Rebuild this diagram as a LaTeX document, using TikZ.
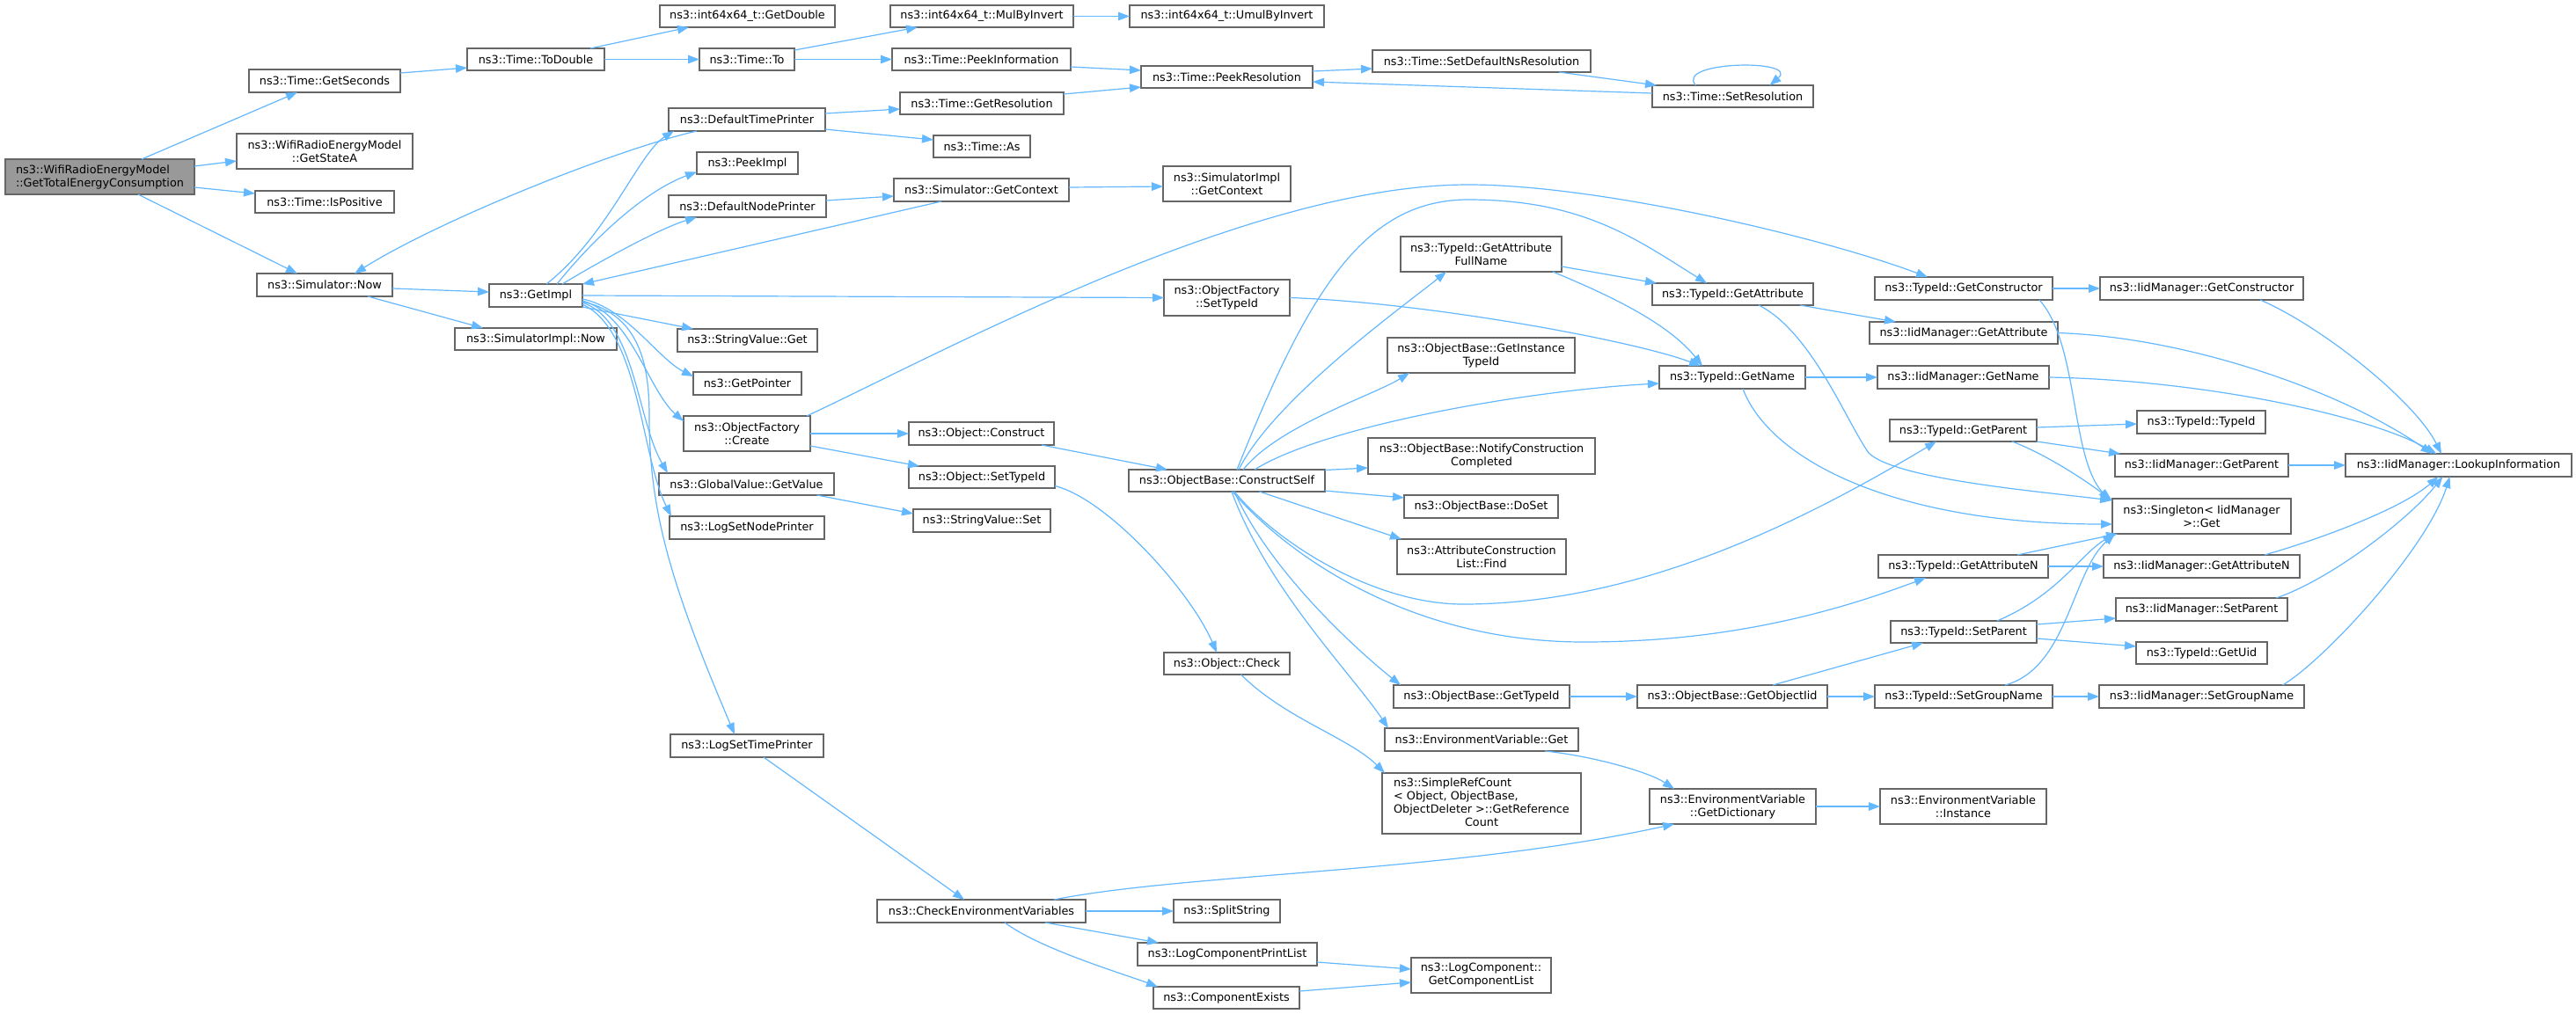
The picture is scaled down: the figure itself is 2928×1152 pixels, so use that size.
\documentclass[tikz,border=0pt]{standalone}
\usepackage{fontspec}
\setmainfont{DejaVu Sans}
\usetikzlibrary{arrows.meta}
\definecolor{edgec}{HTML}{63B8FF}
\definecolor{bordc}{HTML}{666666}
\definecolor{rootc}{HTML}{999999}
\tikzset{
  box/.style={draw=bordc, line width=1.1pt, fill=white, inner sep=0pt, outer sep=0pt,
    align=center, font=\fontsize{12.8}{15}\selectfont},
  call/.style={draw=edgec, line width=1.2pt, -{Triangle[length=13pt,width=9.5pt]}}
}
\newcommand\mkbox[7][]{\node[box,#1,minimum width={#5-#3},minimum height={#6-#4}] (#2) at ({(#3+#5)/2},{-(#4+#6)/2}) {#7};}
\begin{document}
\begin{tikzpicture}[x=1pt,y=1pt]
\fill[white] (0,0) rectangle (2928,-1152);
\useasboundingbox (0,0) rectangle (2928,-1152);
% nodes
\mkbox[fill=rootc,align=left]{root}{6}{181}{221}{221}{ns3::WifiRadioEnergyModel\\::GetTotalEnergyConsumption}
\mkbox{getSeconds}{283}{79}{455}{105}{ns3::Time::GetSeconds}
\mkbox{getStateA}{269}{152}{469}{192}{ns3::WifiRadioEnergyModel\\::GetStateA}
\mkbox{isPositive}{290}{217}{448}{242}{ns3::Time::IsPositive}
\mkbox{simNow}{292}{311}{446}{337}{ns3::Simulator::Now}
\mkbox{toDouble}{531}{55}{687}{80}{ns3::Time::ToDouble}
\mkbox{getImpl}{556}{323}{662}{349}{ns3::GetImpl}
\mkbox{simImplNow}{517}{373}{701}{398}{ns3::SimulatorImpl::Now}
\mkbox{getDouble}{750}{6}{949}{31}{ns3::int64x64\_t::GetDouble}
\mkbox{timeTo}{795}{55}{903}{80}{ns3::Time::To}
\mkbox{defTimePrinter}{760}{123}{938}{149}{ns3::DefaultTimePrinter}
\mkbox{peekImpl}{792}{173}{907}{198}{ns3::PeekImpl}
\mkbox{defNodePrinter}{760}{222}{939}{247}{ns3::DefaultNodePrinter}
\mkbox{strGet}{770}{374}{929}{400}{ns3::StringValue::Get}
\mkbox{getPointer}{788}{423}{911}{449}{ns3::GetPointer}
\mkbox{ofCreate}{777}{473}{921}{513}{ns3::ObjectFactory\\::Create}
\mkbox{gvGetValue}{749}{538}{948}{563}{ns3::GlobalValue::GetValue}
\mkbox{logSetNode}{761}{587}{937}{613}{ns3::LogSetNodePrinter}
\mkbox{logSetTime}{762}{835}{936}{861}{ns3::LogSetTimePrinter}
\mkbox{mulByInvert}{1012}{6}{1220}{31}{ns3::int64x64\_t::MulByInvert}
\mkbox{umulByInvert}{1284}{6}{1505}{31}{ns3::int64x64\_t::UmulByInvert}
\mkbox{peekInfo}{1014}{55}{1217}{80}{ns3::Time::PeekInformation}
\mkbox{peekRes}{1297}{75}{1492}{100}{ns3::Time::PeekResolution}
\mkbox{getRes}{1023}{105}{1209}{130}{ns3::Time::GetResolution}
\mkbox{timeAs}{1061}{154}{1171}{179}{ns3::Time::As}
\mkbox{simGetContext}{1016}{203}{1215}{229}{ns3::Simulator::GetContext}
\mkbox{simImplGetContext}{1322}{189}{1467}{229}{ns3::SimulatorImpl\\::GetContext}
\mkbox{ofSetTypeId}{1323}{318}{1466}{359}{ns3::ObjectFactory\\::SetTypeId}
\mkbox{objConstruct}{1033}{480}{1198}{506}{ns3::Object::Construct}
\mkbox{objSetTypeId}{1033}{530}{1199}{555}{ns3::Object::SetTypeId}
\mkbox{strSet}{1038}{579}{1194}{605}{ns3::StringValue::Set}
\mkbox{constructSelf}{1283}{534}{1506}{559}{ns3::ObjectBase::ConstructSelf}
\mkbox{objCheck}{1323}{742}{1466}{767}{ns3::Object::Check}
\mkbox{checkEnv}{997}{1023}{1234}{1049}{ns3::CheckEnvironmentVariables}
\mkbox{splitString}{1334}{1023}{1455}{1049}{ns3::SplitString}
\mkbox{logCompPrint}{1293}{1072}{1497}{1098}{ns3::LogComponentPrintList}
\mkbox{compExists}{1311}{1122}{1477}{1147}{ns3::ComponentExists}
\mkbox{setDefNsRes}{1560}{57}{1808}{82}{ns3::Time::SetDefaultNsResolution}
\mkbox{setRes}{1878}{97}{2061}{122}{ns3::Time::SetResolution}
\mkbox{getAttrFullName}{1592}{269}{1775}{309}{ns3::TypeId::GetAttribute\\FullName}
\mkbox{getInstTypeId}{1577}{384}{1790}{424}{ns3::ObjectBase::GetInstance\\TypeId}
\mkbox{notifyCC}{1555}{498}{1813}{539}{ns3::ObjectBase::NotifyConstruction\\Completed}
\mkbox{doSet}{1596}{563}{1771}{589}{ns3::ObjectBase::DoSet}
\mkbox{acListFind}{1588}{613}{1780}{653}{ns3::AttributeConstruction\\List::Find}
\mkbox{obGetTypeId}{1584}{779}{1784}{805}{ns3::ObjectBase::GetTypeId}
\mkbox{envGet}{1574}{828}{1794}{854}{ns3::EnvironmentVariable::Get}
\mkbox{simpleRefCount}{1571}{879}{1797}{948}{\begin{tabular}{@{}l@{}}ns3::SimpleRefCount\\< Object, ObjectBase,\\ObjectDeleter >::GetReference\\\multicolumn{1}{@{}c@{}}{Count}\end{tabular}}
\mkbox{getObjectIid}{1861}{779}{2077}{805}{ns3::ObjectBase::GetObjectIid}
\mkbox{envGetDict}{1875}{897}{2064}{937}{ns3::EnvironmentVariable\\::GetDictionary}
\mkbox{envInstance}{2137}{897}{2326}{937}{ns3::EnvironmentVariable\\::Instance}
\mkbox{logCompGetList}{1604}{1089}{1763}{1129}{ns3::LogComponent::\\GetComponentList}
\mkbox{tidGetAttr}{1878}{322}{2061}{347}{ns3::TypeId::GetAttribute}
\mkbox{tidGetName}{1886}{416}{2052}{442}{ns3::TypeId::GetName}
\mkbox{iidGetName}{2134}{416}{2329}{442}{ns3::IidManager::GetName}
\mkbox{tidGetParent}{2148}{477}{2315}{502}{ns3::TypeId::GetParent}
\mkbox{tidGetAttrN}{2135}{631}{2328}{657}{ns3::TypeId::GetAttributeN}
\mkbox{tidSetParent}{2149}{706}{2315}{731}{ns3::TypeId::SetParent}
\mkbox{tidSetGroupName}{2131}{779}{2333}{805}{ns3::TypeId::SetGroupName}
\mkbox{tidGetConstructor}{2131}{315}{2333}{341}{ns3::TypeId::GetConstructor}
\mkbox{iidGetConstructor}{2387}{315}{2618}{341}{ns3::IidManager::GetConstructor}
\mkbox{iidGetAttr}{2125}{366}{2339}{391}{ns3::IidManager::GetAttribute}
\mkbox{tidTypeId}{2429}{467}{2575}{493}{ns3::TypeId::TypeId}
\mkbox{iidGetParent}{2404}{516}{2601}{542}{ns3::IidManager::GetParent}
\mkbox{lookupInfo}{2666}{516}{2923}{542}{ns3::IidManager::LookupInformation}
\mkbox{singletonGet}{2401}{567}{2604}{607}{ns3::Singleton< IidManager\\>::Get}
\mkbox{iidGetAttrN}{2391}{631}{2614}{657}{ns3::IidManager::GetAttributeN}
\mkbox{iidSetParent}{2405}{680}{2600}{706}{ns3::IidManager::SetParent}
\mkbox{tidGetUid}{2428}{730}{2577}{755}{ns3::TypeId::GetUid}
\mkbox{iidSetGroupName}{2386}{779}{2619}{805}{ns3::IidManager::SetGroupName}
% waypoints
\coordinate (wOF) at (1669,-210);
\coordinate (wCA) at (1669,-227);
\coordinate (wGP) at (1663,-687);
\coordinate (wGN) at (1800,-730);
\coordinate (wSG) at (2124,-515);
\coordinate (wLT) at (738,-475);
% edges: root
\draw[call] ([xshift=47.5]root.north) -- ([xshift=-31]getSeconds.south);
\draw[call] ([yshift=12]root.east) -- ([yshift=-11]getStateA.west);
\draw[call] ([yshift=-12]root.east) -- ([yshift=9.5]isPositive.west);
\draw[call] ([xshift=43.5]root.south) -- ([xshift=-31]simNow.north);
% time chain
\draw[call] ([yshift=9]getSeconds.east) -- ([yshift=-9.5]toDouble.west);
\draw[call] ([xshift=62]toDouble.north) -- ([xshift=-66.5]getDouble.south);
\draw[call] (toDouble.east) -- (timeTo.west);
\draw[call] ([yshift=-2]timeTo.north east) -- ([xshift=-73]mulByInvert.south);
\draw[call] (timeTo.east) -- (peekInfo.west);
\draw[call] (mulByInvert.east) -- (umulByInvert.west);
\draw[call] ([yshift=-8.5]peekInfo.east) -- ([yshift=7.5]peekRes.west);
\draw[call] ([yshift=10.5]getRes.east) -- ([yshift=-11.5]peekRes.west);
\draw[call] ([yshift=6.5]peekRes.east) -- ([yshift=-8.5]setDefNsRes.west);
\draw[call] ([xshift=88]setDefNsRes.south) -- ([xshift=5]setRes.north west);
\draw[call] ([yshift=3.5]setRes.west) -- ([yshift=-5.5]peekRes.east);
\draw[call] ([xshift=-42]setRes.north) .. controls +(-25,28) and +(35,30) .. ([xshift=42]setRes.north);
% printers
\draw[call] ([yshift=7]defTimePrinter.east) -- ([yshift=-6.5]getRes.west);
\draw[call] ([yshift=-11]defTimePrinter.east) -- ([yshift=7.5]timeAs.west);
\draw[call] ([xshift=-57]defTimePrinter.south) .. controls +(-92,-21) and +(97,61) .. ([xshift=34]simNow.north);
\draw[call] ([yshift=-4]simNow.east) -- ([yshift=4]getImpl.west);
\draw[call] ([xshift=49]simNow.south) -- ([xshift=-60]simImplNow.north);
\draw[call] ([xshift=12]getImpl.north) .. controls +(70,55) and +(-40,-25) .. ([xshift=-83]defTimePrinter.south);
\draw[call] ([xshift=24]getImpl.north) .. controls +(40,50) and +(-60,-22) .. ([yshift=-10]peekImpl.west);
\draw[call] ([xshift=30]getImpl.north) .. controls +(50,30) and +(-40,-12) .. ([xshift=-57.5]defNodePrinter.south);
\draw[call] ([xshift=-45.5]simGetContext.south) -- (getImpl.north east);
\draw[call] ([yshift=6.5]defNodePrinter.east) -- ([yshift=-7]simGetContext.west);
\draw[call] ([yshift=3]simGetContext.east) -- ([yshift=-3]simImplGetContext.west);
\draw[call] (getImpl.east) -- (ofSetTypeId.west);
\draw[call] (getImpl.south east) -- ([xshift=18]strGet.north west);
\draw[call] ([yshift=-4]getImpl.east) .. controls +(50,-10) and +(-40,20) .. ([yshift=8]getPointer.west);
\draw[call] ([yshift=-6]getImpl.east) .. controls +(55,-15) and +(-40,35) .. ([yshift=14]ofCreate.west);
\draw[call] ([yshift=-8]getImpl.east) .. controls +(60,-20) and +(-35,60) .. ([xshift=10]gvGetValue.north west);
\draw[call] ([yshift=-10]getImpl.east) .. controls +(65,-30) and +(-35,70) .. ([xshift=2]logSetNode.north west);
\draw[call] ([yshift=-7]getImpl.east) .. controls +(70,-15) and +(0,50) .. (wLT) .. controls +(0,-110) and +(-70,165) .. ([xshift=-14]logSetTime.north);
% object factory
\draw[call] ([xshift=-4]ofCreate.north east) .. controls +(150,70) and +(-250,0) .. (wOF) .. controls +(150,0) and +(-120,45) .. ([xshift=-41]tidGetConstructor.north);
\draw[call] (ofCreate.east) -- (objConstruct.west);
\draw[call] ([yshift=-14]ofCreate.east) -- ([xshift=12]objSetTypeId.north west);
\draw[call] ([xshift=80]gvGetValue.south) -- ([yshift=8]strSet.west);
\draw[call] (ofSetTypeId.east) .. controls +(150,-5) and +(-80,30) .. ([xshift=-36]tidGetName.north);
\draw[call] ([xshift=68.5]objConstruct.south) -- ([xshift=-67.5]constructSelf.north);
\draw[call] ([yshift=-10]objSetTypeId.east) .. controls +(60,-15) and +(-30,70) .. ([xshift=-11.5]objCheck.north);
\draw[call] ([xshift=16]objCheck.south) .. controls +(50,-50) and +(-40,40) .. ([xshift=3]simpleRefCount.north west);
% construct self
\draw[call] ([xshift=13.5]constructSelf.north) .. controls +(40,80) and +(-50,-40) .. ([xshift=-39.5]getAttrFullName.south);
\draw[call] ([xshift=11.5]constructSelf.north) .. controls +(80,200) and +(-120,0) .. (wCA) .. controls +(130,0) and +(-80,50) .. ([xshift=-29.5]tidGetAttr.north);
\draw[call] ([xshift=31.5]constructSelf.north) .. controls +(80,50) and +(-150,-8) .. ([yshift=-7]tidGetName.west);
\draw[call] ([xshift=18.5]constructSelf.north) .. controls +(40,50) and +(-40,-25) .. ([xshift=-81.5]getInstTypeId.south);
\draw[call] ([yshift=12]constructSelf.east) -- ([yshift=-13.5]notifyCC.west);
\draw[call] ([yshift=-11.5]constructSelf.east) -- ([yshift=10]doSet.west);
\draw[call] ([xshift=37]constructSelf.south) -- ([xshift=5]acListFind.north west);
\draw[call] ([xshift=8.5]constructSelf.south) .. controls +(50,-60) and +(-100,0) .. (wGP) .. controls +(200,0) and +(-150,-90) .. ([xshift=-30.5]tidGetParent.south);
\draw[call] ([xshift=6.5]constructSelf.south) .. controls +(60,-70) and +(-200,0) .. (wGN) .. controls +(150,0) and +(-120,-45) .. ([xshift=-42.5]tidGetAttrN.south);
\draw[call] ([xshift=8.5]constructSelf.south) .. controls +(40,-90) and +(-50,40) .. ([xshift=8]obGetTypeId.north west);
\draw[call] ([xshift=5.5]constructSelf.south) .. controls +(40,-110) and +(-40,60) .. ([xshift=4]envGet.north west);
% object base / type id
\draw[call] (obGetTypeId.east) -- (getObjectIid.west);
\draw[call] ([xshift=46]getObjectIid.north) -- ([xshift=-46]tidSetParent.south);
\draw[call] (getObjectIid.east) -- (tidSetGroupName.west);
\draw[call] (tidSetGroupName.east) -- (iidSetGroupName.west);
\draw[call] ([xshift=47]tidSetGroupName.north) .. controls +(71,19) and +(-49,-43) .. ([xshift=3]singletonGet.south west);
\draw[call] ([yshift=8.5]tidSetParent.east) -- ([yshift=-10]iidSetParent.west);
\draw[call] ([yshift=-7.5]tidSetParent.east) -- ([yshift=7.5]tidGetUid.west);
\draw[call] ([xshift=38]tidSetParent.north) .. controls +(70,30) and +(-40,-25) .. ([xshift=2]singletonGet.south west);
\draw[call] (tidGetAttrN.east) -- (iidGetAttrN.west);
\draw[call] ([xshift=61.5]tidGetAttrN.north) -- ([xshift=6]singletonGet.south west);
\draw[call] ([yshift=3.5]tidGetParent.east) -- ([yshift=-2]tidTypeId.west);
\draw[call] (tidGetParent.south east) -- ([xshift=6]iidGetParent.north west);
\draw[call] ([xshift=55.5]tidGetParent.south) .. controls +(40,-15) and +(-25,20) .. ([yshift=-3]singletonGet.north west);
\draw[call] (iidGetParent.east) -- (lookupInfo.west);
\draw[call] ([xshift=29.5]tidGetAttr.south) .. controls +(60,-30) and +(-25,35) .. (wSG) .. controls +(30,-30) and +(-80,10) .. ([xshift=-1,yshift=-2]singletonGet.north west);
\draw[call] (tidGetConstructor.east) -- (iidGetConstructor.west);
\draw[call] ([xshift=86]tidGetConstructor.south) .. controls +(45,-50) and +(-45,50) .. ([xshift=-3,yshift=-2]singletonGet.north west);
\draw[call] ([xshift=66.5]iidGetConstructor.south) .. controls +(70,-30) and +(-30,60) .. ([xshift=-19.5]lookupInfo.north);
\draw[call] (iidGetAttr.east) .. controls +(150,-5) and +(-100,70) .. ([xshift=-30]lookupInfo.north);
\draw[call] (iidGetName.east) .. controls +(170,-3) and +(-80,45) .. ([xshift=-25]lookupInfo.north);
\draw[call] ([xshift=71.5]iidGetAttrN.north) .. controls +(70,20) and +(-40,-35) .. ([xshift=-23]lookupInfo.south);
\draw[call] ([xshift=84.5]iidSetParent.north) .. controls +(60,20) and +(-40,-50) .. ([xshift=-18]lookupInfo.south);
\draw[call] ([xshift=92]iidSetGroupName.north) .. controls +(50,30) and +(-25,-80) .. ([xshift=-10]lookupInfo.south);
\draw[call] (tidGetName.east) -- (iidGetName.west);
\draw[call] ([xshift=12]tidGetName.south) .. controls +(30,-80) and +(-250,0) .. ([yshift=-9]singletonGet.west);
\draw[call] ([yshift=-14]getAttrFullName.east) -- ([xshift=5]tidGetAttr.north west);
\draw[call] ([xshift=-10]getAttrFullName.south east) .. controls +(60,-25) and +(-40,50) .. ([xshift=-34]tidGetName.north);
\draw[call] ([xshift=-15]tidGetAttr.south east) -- ([xshift=30]iidGetAttr.north west);
% environment / logging
\draw[call] ([xshift=19]logSetTime.south) -- ([xshift=-19.5]checkEnv.north);
\draw[call] ([xshift=82.5]checkEnv.north) .. controls +(150,30) and +(-250,-55) .. ([xshift=-66.5]envGetDict.south);
\draw[call] ([xshift=72]envGet.south) .. controls +(50,-5) and +(-30,20) .. ([xshift=-66.5]envGetDict.north);
\draw[call] (envGetDict.east) -- (envInstance.west);
\draw[call] (checkEnv.east) -- (splitString.west);
\draw[call] ([xshift=72.5]checkEnv.south) -- ([xshift=24]logCompPrint.north west);
\draw[call] ([xshift=26.5]checkEnv.south) .. controls +(40,-30) and +(-40,15) .. ([xshift=5]compExists.north west);
\draw[call] ([yshift=-9]logCompPrint.east) -- ([yshift=7]logCompGetList.west);
\draw[call] ([yshift=7.5]compExists.east) -- ([yshift=-8]logCompGetList.west);
\end{tikzpicture}
\end{document}
